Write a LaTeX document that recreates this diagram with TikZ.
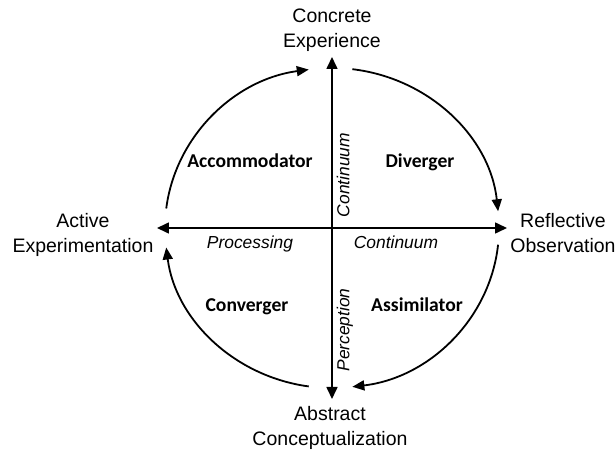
\documentclass[tikz,border=0pt]{standalone}
\usepackage{fontspec}
\setmainfont{Liberation Sans}
\newfontfamily\quadfont{Carlito}
\usetikzlibrary{arrows.meta}

\begin{document}
\begin{tikzpicture}[x=1pt,y=1pt,
		poletext/.style={align=center,inner sep=0pt,font=\fontsize{19.5}{25}\selectfont},
		quadtext/.style={anchor=base,inner sep=0pt,font=\quadfont\bfseries\fontsize{19.6}{24}\selectfont},
		dimtext/.style={anchor=base,inner sep=0pt,font=\itshape\fontsize{17.4}{21}\selectfont},
		axisline/.style={line width=1.6pt,{Triangle[length=12pt,width=11pt]}-{Triangle[length=12pt,width=11pt]}},
		cyclearc/.style={line width=1.8pt,-{Triangle[length=12pt,width=10pt]}}]
			\useasboundingbox (-332,-224) rectangle (284,228);
			\node[poletext] (ce) at (0,197.5) {Concrete\\Experience};
			\node[poletext] (ro) at (231,-4.6) {Reflective\\Observation};
			\node[poletext] (ac) at (-2,-199.5) {Abstract\\Conceptualization};
			\node[poletext] (ae) at (-249,-6.5) {Active\\Experimentation};
			\coordinate (top) at (0,171);
			\coordinate (bottom) at (0,-171);
			\coordinate (left) at (-175,0);
			\coordinate (right) at (175,0);
			\draw[axisline](bottom) -- (top);
			\draw[axisline](left) -- (right);
			\draw[cyclearc](173:167 and 160) arc[start angle=173,end angle=98,x radius=167,y radius=160];
			\draw[cyclearc](83:167 and 160) arc[start angle=83,end angle=6,x radius=167,y radius=160];
			\draw[cyclearc](-6:167 and 160) arc[start angle=-6,end angle=-83,x radius=167,y radius=160];
			\draw[cyclearc](-98:167 and 160) arc[start angle=-98,end angle=-173,x radius=167,y radius=160];
			\node[quadtext] (acc) at (-82,60) {Accommodator};
			\node[quadtext] (div) at (88,60) {Diverger};
			\node[quadtext] (con) at (-85,-84) {Converger};
			\node[quadtext] (ass) at (85,-84) {Assimilator};
			\node[dimtext] (proc) at (-82,-21) {Processing};
			\node[dimtext] (contx) at (64,-21) {Continuum};
			\node[dimtext,rotate=90] (conty) at (17.5,53) {Continuum};
			\node[dimtext,rotate=90] (perc) at (17.5,-102) {Perception};
		\end{tikzpicture}
\end{document}
